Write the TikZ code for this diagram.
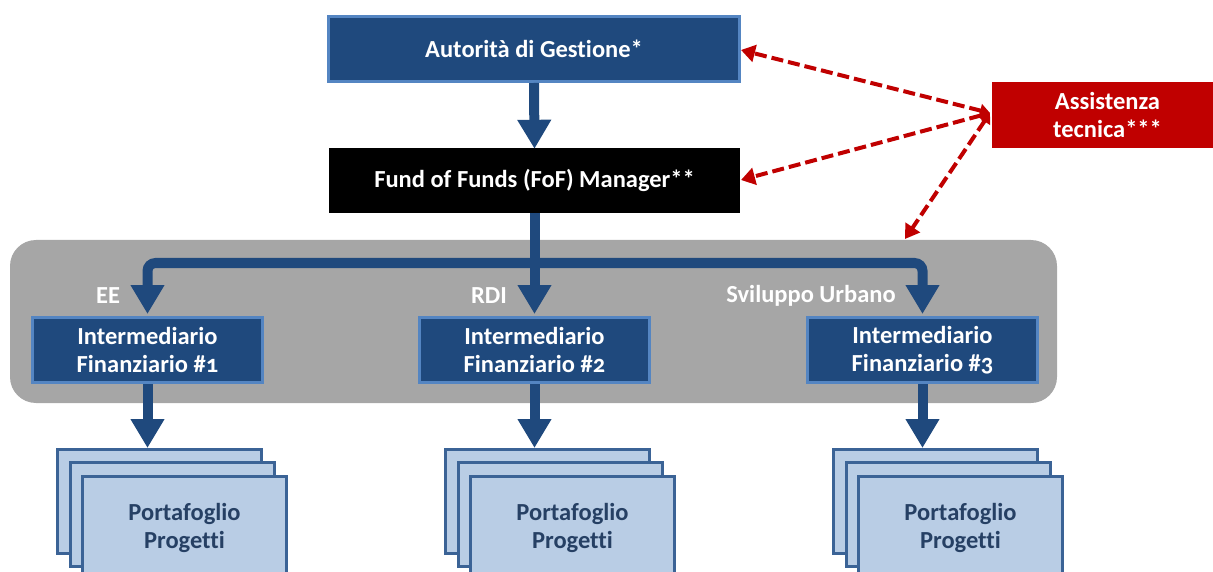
\documentclass[tikz,border=0pt]{standalone}
\usepackage{fontspec}
\setmainfont{Carlito}[Numbers=OldStyle, Ligatures=NoCommon]
\usetikzlibrary{arrows.meta}

\definecolor{navy}{RGB}{31,73,125}
\definecolor{navyedge}{RGB}{84,133,194}
\definecolor{panelgray}{RGB}{166,166,166}
\definecolor{darkred}{RGB}{192,0,0}
\definecolor{paleblue}{RGB}{185,205,229}
\definecolor{stackedge}{RGB}{59,99,150}
\definecolor{stacktext}{RGB}{38,64,100}

\tikzset{
  every node/.style={font=\fontsize{24.5}{27.5}\selectfont\bfseries, align=center, inner sep=0pt},
  bluebox/.style={draw=navyedge, line width=3pt, fill=navy, text=white,
                  minimum width=411pt, minimum height=65pt},
  midbox/.style={bluebox, minimum width=230pt},
  blackbox/.style={fill=black, text=white, minimum width=411pt, minimum height=65pt},
  redbox/.style={fill=darkred, text=white, minimum width=231pt, minimum height=66pt},
  sheet/.style={draw=stackedge, line width=3pt, fill=paleblue, text=stacktext,
                minimum width=204pt, minimum height=104pt},
  tag/.style={text=white},
  flow/.style={draw=navy, line width=10pt,
               -{Triangle[width=32pt,length=29pt]}},
  assist/.style={draw=darkred, line width=4pt, dash pattern=on 12pt off 5pt,
                 {Triangle[width=13pt,length=10pt]}-{Triangle[width=17pt,length=14pt]}}
}

\begin{document}
\begin{tikzpicture}[x=1pt, y=-1pt]
  \useasboundingbox (0,0) rectangle (1213,572);

  % grey panel holding the three intermediaries
  \fill[panelgray, rounded corners=26pt] (10,240) rectangle (1057,403);

  % top of the chain
  \node[bluebox] (adg) at (534,49) {Autorità di Gestione*};
  \node[blackbox] (fof) at (534.5,180.5) {Fund of Funds (FoF) Manager**};
  \node[redbox] (at) at (1107.5,115) {Assistenza\\tecnica***};

  % intermediaries
  \node[midbox] (if1) at (147.5,350) {Intermediario\\Finanziario \#1};
  \node[midbox] (if2) at (534.5,350) {Intermediario\\Finanziario \#2};
  \node[midbox] (if3) at (922.5,350) {Intermediario\\Finanziario \#3};

  \node[tag] (ee)  at (108,296) {EE};
  \node[tag] (rdi) at (489,296) {RDI};
  \node[tag] (su)  at (811,296) {Sviluppo Urbano};

  % project portfolios (three stacked sheets each)
  \foreach \i/\dx in {1/0, 2/388, 3/776} {
    \node[sheet] (b\i) at ({159.5+\dx},501) {};
    \node[sheet] (m\i) at ({172+\dx},514) {};
    \node[sheet] (p\i) at ({184.5+\dx},528) {Portafoglio\\Progetti};
  }

  % blue flow arrows
  \coordinate (split) at (534.5,263);
  \draw[flow] (adg.south) -- ([yshift=-1pt]fof.north);
  \draw[flow, line cap=butt] (fof.south) -- (534.5,314);
  \draw[flow, rounded corners=8pt] (split) -| (147.5,314);
  \draw[flow, rounded corners=8pt] (split) -| (922.5,314);
  \draw[flow] (if1.south) -- (147.5,448);
  \draw[flow] (if2.south) -- (534.5,448);
  \draw[flow] (if3.south) -- (922.5,448);

  % technical assistance links
  \coordinate (hub) at (990,113);
  \draw[assist] (hub) -- (741,50);
  \draw[assist] (hub) -- (741,180);
  \draw[assist] (hub) -- (905,239);
\end{tikzpicture}
\end{document}
